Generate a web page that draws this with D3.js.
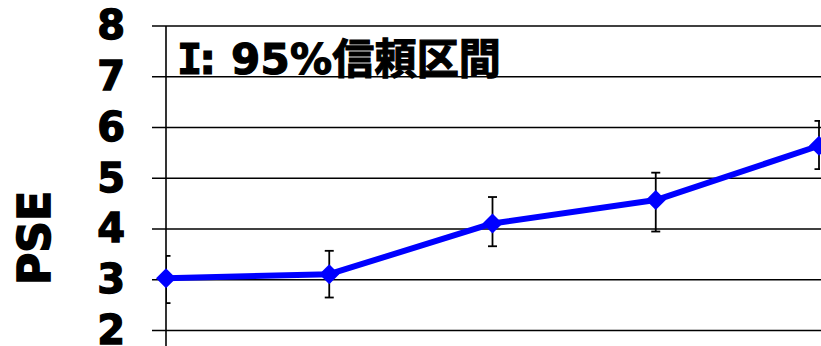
<!DOCTYPE html>
<html>
<head>
<meta charset="utf-8">
<script src="https://cdn.jsdelivr.net/npm/d3@7"></script>
<style>
  html, body { margin: 0; padding: 0; background: #fff; }
  svg { display: block; }
</style>
</head>
<body>
<svg id="chart" width="821" height="346"></svg>
<script>
// PSE by condition with 95% confidence intervals
const categories = ["1", "2", "3", "4", "5"];
const pse   = [3.03, 3.11, 4.11, 4.57, 5.64];
const upper = [3.47, 3.57, 4.63, 5.11, 6.13];
const lower = [2.54, 2.65, 3.66, 3.95, 5.18];
const yTicks = [2, 3, 4, 5, 6, 7, 8];
const titleMark = "I";
const titleText = ": 95%信頼区間";
const yLabel = "PSE";

const W = 821, H = 346;
const plotLeft = 166, plotRight = 819;
const svg = d3.select("#chart");

const y = d3.scaleLinear().domain([2, 8]).range([330.5, 26]);
const x = d3.scalePoint().domain(categories).range([plotLeft, plotRight]);

const font = "'DejaVu Sans', Verdana, sans-serif";

// horizontal gridlines
svg.append("g")
  .selectAll("line")
  .data(yTicks)
  .join("line")
  .attr("x1", plotLeft - 14).attr("x2", W)
  .attr("y1", d => y(d)).attr("y2", d => y(d))
  .attr("stroke", "#000").attr("stroke-width", 1.6);

// y axis with labels
const axis = svg.append("g")
  .attr("transform", `translate(${plotLeft},0)`)
  .call(d3.axisLeft(y).tickValues(yTicks).tickSize(0).tickPadding(41).tickFormat(d3.format("d")));
axis.select(".domain").remove();
axis.selectAll("text")
  .attr("font-family", font)
  .attr("font-weight", "bold")
  .attr("font-size", 40)
  .attr("fill", "#000")
  .attr("stroke", "#000")
  .attr("stroke-width", 1.3);

// vertical axis line running to the bottom edge
svg.append("line")
  .attr("x1", plotLeft).attr("x2", plotLeft)
  .attr("y1", y(8)).attr("y2", H)
  .attr("stroke", "#000").attr("stroke-width", 1.6);

// y axis title
svg.append("text")
  .attr("transform", `translate(50,${238}) rotate(-90)`)
  .attr("text-anchor", "middle")
  .attr("font-family", font)
  .attr("font-weight", "bold")
  .attr("font-size", 44)
  .attr("stroke", "#000")
  .attr("stroke-width", 1.6)
  .text(yLabel);

// chart note: the "I" stands for the error-bar glyph
const note = svg.append("text")
  .attr("x", 177).attr("y", 74)
  .attr("font-family", "'DejaVu Sans', 'Noto Sans CJK JP', sans-serif")
  .attr("font-weight", "bold")
  .attr("font-size", 42)
  .attr("letter-spacing", 0.2)
  .attr("stroke", "#000")
  .attr("stroke-width", 1.2);
note.append("tspan")
  .attr("font-family", "'DejaVu Sans Mono', monospace")
  .attr("letter-spacing", -3)
  .text(titleMark);
note.append("tspan").text(titleText);

// error bars, clipped to the plotting area
svg.append("defs").append("clipPath").attr("id", "plotClip")
  .append("rect").attr("x", plotLeft).attr("y", 0)
  .attr("width", plotRight + 1 - plotLeft).attr("height", H);

const err = svg.append("g").attr("clip-path", "url(#plotClip)")
  .attr("stroke", "#000").attr("stroke-width", 1.8);
const rows = categories.map((c, i) => ({ c, v: pse[i], hi: upper[i], lo: lower[i] }));
err.selectAll("line.bar").data(rows).join("line").attr("class", "bar")
  .attr("x1", d => x(d.c)).attr("x2", d => x(d.c))
  .attr("y1", d => y(d.hi)).attr("y2", d => y(d.lo));
err.selectAll("line.capHi").data(rows).join("line").attr("class", "capHi")
  .attr("x1", d => x(d.c) - 4.5).attr("x2", d => x(d.c) + 4.5)
  .attr("y1", d => y(d.hi)).attr("y2", d => y(d.hi));
err.selectAll("line.capLo").data(rows).join("line").attr("class", "capLo")
  .attr("x1", d => x(d.c) - 4.5).attr("x2", d => x(d.c) + 4.5)
  .attr("y1", d => y(d.lo)).attr("y2", d => y(d.lo));

// series line
svg.append("path")
  .datum(rows)
  .attr("fill", "none")
  .attr("stroke", "#0000ff")
  .attr("stroke-width", 6)
  .attr("stroke-linejoin", "round")
  .attr("d", d3.line().x(d => x(d.c)).y(d => y(d.v)));

// diamond markers
svg.append("g").selectAll("path")
  .data(rows)
  .join("path")
  .attr("transform", d => `translate(${x(d.c)},${y(d.v)})`)
  .attr("d", "M0,-10L10,0L0,10L-10,0Z")
  .attr("fill", "#0000ff");
</script>
</body>
</html>
